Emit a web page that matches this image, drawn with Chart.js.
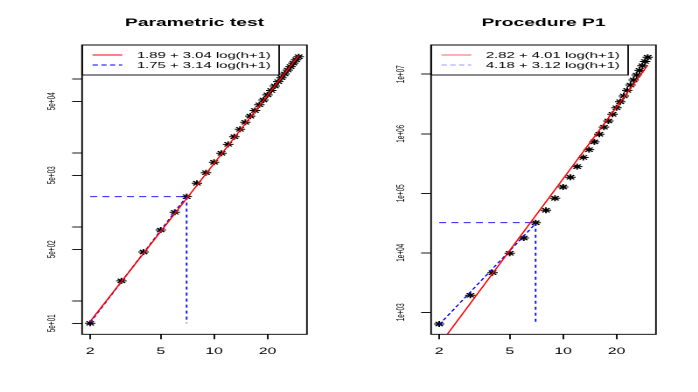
<!DOCTYPE html>
<html>
<head>
<meta charset="utf-8">
<title>Parametric test / Procedure P1</title>
<script src="https://cdn.jsdelivr.net/npm/chart.js@4.4.1/dist/chart.umd.min.js"></script>
<style>
  body { margin: 0; background: #fff; }
  #wrap { position: relative; width: 698px; height: 392px; overflow: hidden; }
  /* the original figure was square and got squeezed into 698x392,
     so each panel is drawn narrow and then stretched sideways */
  canvas { position: absolute; top: 0; transform-origin: 0 0; transform: scaleX(1.75); }
  #left { left: 0; }
  #right { left: 349px; }
</style>
</head>
<body>
<div id="wrap">
  <canvas id="left" width="200" height="392"></canvas>
  <canvas id="right" width="200" height="392"></canvas>
</div>
<script>
// x axis: h+1
const hPlus1 = [2, 3, 4, 5, 6, 7, 8, 9, 10, 11, 12, 13, 14, 15, 16, 17, 18, 19, 20, 21, 22, 23, 24, 25, 26, 27, 28, 29, 30];

// Parametric test
const paramValues = [50, 187, 460, 910, 1580, 2570, 3900, 5420, 7500, 9920, 13100, 16600, 20900, 26000,
    31500, 37500, 44800, 52000, 61000, 70000, 80500, 92000, 104000, 117000, 132000, 147000, 164000, 182000, 200000];
const paramFitX = [2, 30];
const paramFitY = [53, 207000];
const paramEarlyX = [2, 7];
const paramEarlyY = [51, 2590];
const paramCutY = 2570;
const paramYTicks = [50, 100, 500, 1000, 5000, 10000, 50000, 100000];
const paramYLabels = ['5e+01', '', '5e+02', '', '5e+03', '', '5e+04', ''];
const paramLegend = ['1.89 + 3.04 log(h+1)', '1.75 + 3.14 log(h+1)'];

// Procedure P1
const p1Values = [636, 1930, 4630, 9820, 17700, 32000, 51800, 82400, 127600, 186000, 280000, 400000, 540000, 730000,
    981000, 1290000, 1640000, 2130000, 2730000, 3450000, 4320000, 5360000, 6580000, 8010000, 9690000, 11600000, 13900000, 16400000, 19300000];
const p1FitX = [2, 30];
const p1FitY = [280, 14200000];
const p1EarlyX = [2, 7];
const p1EarlyY = [620, 31000];
const p1CutY = 32000;
const p1YTicks = [1000, 10000, 100000, 1000000, 10000000];
const p1YLabels = ['1e+03', '1e+04', '1e+05', '1e+06', '1e+07'];
const p1Legend = ['2.82 + 4.01 log(h+1)', '4.18 + 3.12 log(h+1)'];

const cutAt = 7;
const xTicks = [2, 5, 10, 20];
const xTickLabels = ['2', '5', '10', '20'];

const FONT = "'Liberation Sans', Arial, Helvetica, sans-serif";

function pts(xs, ys) {
    return xs.map((x, i) => ({ x: x, y: ys[i] }));
}

// box round the plot + legend in the top left corner
function framePlugin(labels, strokes) {
    return {
        id: 'frame',
        afterDraw(chart) {
            const ctx = chart.ctx;
            const a = chart.chartArea;
            ctx.save();
            ctx.strokeStyle = '#000';
            ctx.lineWidth = 0.9;
            ctx.strokeRect(a.left, a.top, a.right - a.left, a.bottom - a.top);
            ctx.strokeRect(a.left, a.top, 112.6, 30);
            ctx.restore();

            labels.forEach((txt, i) => {
                const y = a.top + 10 + i * 10;
                ctx.save();
                ctx.beginPath();
                ctx.lineWidth = 1.1;
                ctx.strokeStyle = strokes[i];
                ctx.setLineDash(i ? [3, 2] : []);
                ctx.moveTo(a.left + 6, y);
                ctx.lineTo(a.left + 23, y);
                ctx.stroke();
                ctx.restore();

                ctx.save();
                ctx.font = '8.5px ' + FONT;
                ctx.textBaseline = 'middle';
                ctx.fillStyle = '#000';
                ctx.fillText(txt, a.left + 31.3, y + 0.5);
                ctx.restore();
            });
        }
    };
}

function panel(id, cfg) {
    const line = { showLine: true, pointRadius: 0, borderWidth: 0.9, fill: false };
    return new Chart(document.getElementById(id), {
        type: 'scatter',
        data: {
            datasets: [
                Object.assign({ data: pts(cfg.fitX, cfg.fitY), borderColor: 'red' }, line),
                Object.assign({ data: pts(cfg.earlyX, cfg.earlyY), borderColor: 'blue', borderDash: [3, 2] }, line),
                Object.assign({ data: [{ x: hPlus1[0], y: cfg.cutY }, { x: cutAt, y: cfg.cutY }], borderColor: 'blue', borderDash: [4, 3] }, line),
                Object.assign({ data: [{ x: cutAt, y: cfg.cutY }, { x: cutAt, y: cfg.values[0] }], borderColor: 'blue', borderDash: [3, 3] }, line),
                {
                    data: pts(hPlus1, cfg.values),
                    showLine: false,
                    pointStyle: 'star',
                    pointRadius: 3,
                    pointBorderColor: '#000',
                    pointBackgroundColor: 'rgba(0,0,0,0)',
                    pointBorderWidth: 1
                }
            ]
        },
        options: {
            responsive: false,
            maintainAspectRatio: false,
            devicePixelRatio: 2,
            animation: false,
            events: [],
            layout: { padding: { left: 0, right: 24.6, top: 0, bottom: 0 } },
            plugins: {
                legend: { display: false },
                tooltip: { enabled: false },
                title: {
                    display: true,
                    text: cfg.title,
                    fullSize: false,
                    color: '#000',
                    font: { family: FONT, size: 11, weight: 'bold', lineHeight: 1.2 },
                    padding: { top: 16.5, bottom: 15.3 }
                }
            },
            scales: {
                x: {
                    type: 'logarithmic',
                    min: 1.8,
                    max: 33.4,
                    afterBuildTicks: s => { s.ticks = xTicks.map(v => ({ value: v })); },
                    afterFit: s => { s.height = 57.7; },
                    ticks: {
                        autoSkip: false, minRotation: 0, maxRotation: 0, padding: 7, color: '#000',
                        font: { family: FONT, size: 9 },
                        callback: (v, i) => xTickLabels[i]
                    },
                    grid: { drawOnChartArea: false, drawTicks: true, tickLength: 5, color: '#000', lineWidth: 0.9 },
                    border: { display: false }
                },
                y: {
                    type: 'logarithmic',
                    min: cfg.yMin,
                    max: cfg.yMax,
                    afterBuildTicks: s => { s.ticks = cfg.yTicks.map(v => ({ value: v })); },
                    afterFit: s => { s.width = 46.9; },
                    ticks: {
                        autoSkip: false, minRotation: 90, maxRotation: 90, crossAlign: 'center', padding: 2.3, color: '#000',
                        font: { family: FONT, size: 6.4 },
                        callback: (v, i) => cfg.yLabels[i]
                    },
                    grid: { drawOnChartArea: false, drawTicks: true, tickLength: 5.7, color: '#000', lineWidth: 0.9 },
                    border: { display: false }
                }
            }
        },
        plugins: [framePlugin(cfg.legend, cfg.legendColors)]
    });
}

panel('left', {
    title: 'Parametric test',
    values: paramValues, fitX: paramFitX, fitY: paramFitY, earlyX: paramEarlyX, earlyY: paramEarlyY,
    cutY: paramCutY, yTicks: paramYTicks, yLabels: paramYLabels, yMin: 35.5, yMax: 288000,
    legend: paramLegend, legendColors: ['#ff0000', '#0000ff']
});

panel('right', {
    title: 'Procedure P1',
    values: p1Values, fitX: p1FitX, fitY: p1FitY, earlyX: p1EarlyX, earlyY: p1EarlyY,
    cutY: p1CutY, yTicks: p1YTicks, yLabels: p1YLabels, yMin: 427, yMax: 31000000,
    legend: p1Legend, legendColors: ['#ff6060', '#9a9aff']
});
</script>
</body>
</html>
